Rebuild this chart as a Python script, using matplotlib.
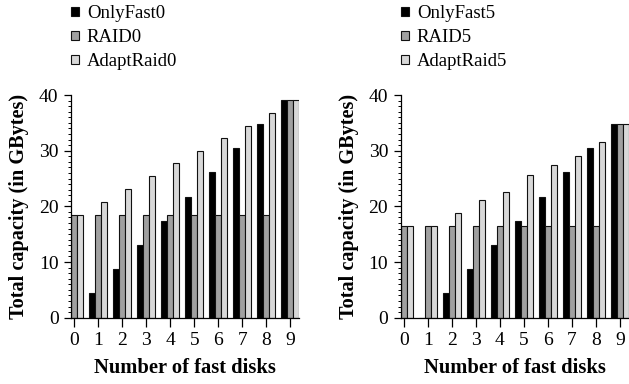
import matplotlib
matplotlib.use("Agg")
import matplotlib.pyplot as plt
import numpy as np
from matplotlib.ticker import MultipleLocator

plt.rcParams['font.family'] = ['Liberation Serif', 'DejaVu Serif']

disks = [0, 1, 2, 3, 4, 5, 6, 7, 8, 9]

only_fast0 = [0, 4.4, 8.7, 13.1, 17.4, 21.7, 26.2, 30.5, 34.8, 39.1]
raid0 = [18.5, 18.5, 18.5, 18.5, 18.5, 18.5, 18.5, 18.5, 18.5, 39.1]
adapt0 = [18.5, 20.8, 23.2, 25.4, 27.7, 30.0, 32.3, 34.5, 36.8, 39.1]

only_fast5 = [0, 0, 4.4, 8.7, 13.1, 17.4, 21.7, 26.2, 30.5, 34.8]
raid5 = [16.5, 16.5, 16.5, 16.5, 16.5, 16.5, 16.5, 16.5, 16.5, 34.8]
adapt5 = [16.5, 16.5, 18.8, 21.1, 22.5, 25.6, 27.4, 29.0, 31.6, 34.8]

labels_left = ['OnlyFast0', 'RAID0', 'AdaptRaid0']
labels_right = ['OnlyFast5', 'RAID5', 'AdaptRaid5']
colors = ['#000000', '#a0a0a0', '#d8d8d8']

W, H = 629, 384
fig = plt.figure(figsize=(W / 100, H / 100), dpi=100)

def make_axes(left_px, series, labels, leg_x_px):
    ax = fig.add_axes([left_px / W, (H - 317.7) / H, 228 / W, 222.7 / H])
    x = np.array(disks, dtype=float)
    bw = 0.25
    handles = []
    for i, (vals, lab, c) in enumerate(zip(series, labels, colors)):
        b = ax.bar(x + (i - 1) * bw, vals, width=bw, color=c,
                   edgecolor='#111111', linewidth=0.8, label=lab, zorder=2)
        handles.append(b)
    ax.set_xlim(-0.125, 9.38)
    ax.set_ylim(0, 40)
    ax.set_xticks(disks)
    ax.set_yticks([0, 10, 20, 30, 40])
    ax.yaxis.set_minor_locator(MultipleLocator(1))
    ax.spines['top'].set_visible(False)
    ax.spines['right'].set_visible(False)
    ax.spines['left'].set_linewidth(0.9)
    ax.spines['bottom'].set_linewidth(0.9)
    ax.tick_params(axis='y', which='major', direction='out', length=5.2, width=0.9,
                   labelsize=14, pad=4)
    ax.tick_params(axis='y', which='minor', direction='out', length=2.5, width=0.7)
    ax.tick_params(axis='x', which='major', direction='out', length=6.5, width=0.9,
                   labelsize=14, pad=3.5)
    ax.set_xlabel('Number of fast disks', fontsize=14.8, fontweight='bold', labelpad=7)
    ax.set_ylabel('Total capacity (in GBytes)', fontsize=14.6, fontweight='bold', labelpad=7)
    ax.legend(handles=handles, labels=labels, loc='upper left',
              bbox_to_anchor=(leg_x_px / W, 1.0 - 5 / H), bbox_transform=fig.transFigure,
              frameon=False, fontsize=13.5, handlelength=0.4, handleheight=0.4,
              handletextpad=0.45, labelspacing=0.38, borderaxespad=0.0,
              borderpad=0.0)
    return ax

make_axes(71.3, [only_fast0, raid0, adapt0], labels_left, 71)
make_axes(401, [only_fast5, raid5, adapt5], labels_right, 401)

fig.savefig('out.png', dpi=100)
